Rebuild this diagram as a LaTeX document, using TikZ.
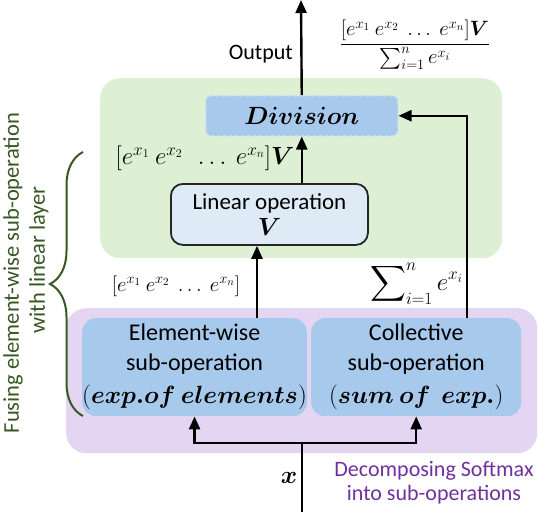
\documentclass[tikz,border=0pt]{standalone}
\usepackage{amsmath}
\usepackage{bm}
\usepackage{fontspec}
\setmainfont{Carlito}
\usetikzlibrary{arrows.meta,decorations.pathreplacing}
\definecolor{greenbg}{HTML}{DDF0D4}
\definecolor{purplebg}{HTML}{E4D6F3}
\definecolor{bluebox}{HTML}{A6C9EC}
\definecolor{linfill}{HTML}{DEEBF7}
\definecolor{divborder}{HTML}{C9DDF2}
\definecolor{darkgreen}{HTML}{385723}
\definecolor{purpletext}{HTML}{7030A0}
\tikzset{
  region/.style={draw=none, rounded corners=20pt, inner sep=0pt, anchor=north west},
  opbox/.style={draw=none, fill=bluebox, rounded corners=14pt, inner sep=0pt, anchor=north west, align=center,
    font=\fontsize{24}{30}\selectfont},
  linbox/.style={draw=black!85, line width=1.8pt, fill=linfill, rounded corners=12pt, inner sep=0pt, anchor=north west, align=center,
    font=\fontsize{23}{29}\selectfont},
  divbox/.style={draw=divborder, dashed, line width=1.5pt, fill=bluebox, rounded corners=5pt, inner sep=0pt, anchor=north west,
    font=\fontsize{23}{26}\selectfont},
  arr/.style={line width=2.4pt, -{Triangle[length=13pt,width=11pt]}},
  lab/.style={inner sep=0pt, font=\fontsize{22}{26}\selectfont},
  mathlab/.style={inner sep=0pt, font=\fontsize{24}{28}\selectfont},
  sidetext/.style={inner sep=0pt, rotate=90, text=darkgreen, font=\fontsize{22.5}{26}\selectfont},
}
\begin{document}
\begin{tikzpicture}[x=1pt,y=-1pt]
\useasboundingbox (0,0) rectangle (538,512);
% backgrounds
\node[region, fill=greenbg, minimum width=402pt, minimum height=180pt] (green) at (100,78) {};
\node[region, fill=purplebg, minimum width=471pt, minimum height=145pt] (purple) at (66,308) {};
% boxes
\node[divbox, minimum width=192pt, minimum height=40pt] (div) at (205,95) {$\bm{Division}$};
\node[linbox, minimum width=197pt, minimum height=61pt] (lin) at (170,183) {Linear operation\\[-3pt] $\bm{V}$};
\node[opbox, minimum width=220pt, minimum height=98pt] (elem) at (82,318)
  {Element-wise\\ sub-operation\\[3pt] $(\bm{exp.of\ elements})$};
\node[opbox, minimum width=210pt, minimum height=98pt] (coll) at (311,318)
  {Collective\\ sub-operation\\[3pt] $(\bm{sum\ of\ \ exp.})$};
% coordinates
\coordinate (top) at (301,0);
\coordinate (in) at (302,512);
\coordinate (split) at (302,443);
\coordinate (ax) at (257,0);
\coordinate (cx) at (467,0);
% connectors
\draw[arr] (div.north) -- (top);
\draw[arr] (div.south |- lin.north) -- (div.south);
\draw[arr] (ax |- elem.north) -- (ax |- lin.south);
\draw[arr] (cx |- coll.north) |- (div.east);
\draw[line width=2.4pt] (in) -- (split);
\draw[arr] (split) -| (elem.south);
\draw[arr] (split) -| (coll.south);
% labels
\node[lab, anchor=east] (outl) at (293,54) {Output};
\node[mathlab, font=\fontsize{22}{26}\selectfont] (frac) at (415,45) {$\dfrac{[e^{x_1}\ e^{x_2}\ \ldots\ e^{x_n}]\bm{V}}{\sum_{i=1}^{n} e^{x_i}}$};
\node[mathlab] (vlab) at (205,158) {$[e^{x_1}\ e^{x_2}\ \ \ldots\ e^{x_n}]\bm{V}$};
\node[mathlab, font=\fontsize{21}{24}\selectfont] (elab) at (176,286) {$[e^{x_1}\ e^{x_2}\ \ldots\ e^{x_n}]$};
\node[mathlab, font=\fontsize{23}{27}\selectfont, anchor=east] (slab) at (463,284) {$\displaystyle\sum\nolimits_{i=1}^{n} e^{x_i}$};
\node[mathlab] (xlab) at (289,478) {$\bm{x}$};
\node[lab, text=purpletext, align=center, font=\fontsize{22}{24}\selectfont] (decomp) at (434,483) {Decomposing Softmax\\ into sub-operations};
% brace
\draw[darkgreen, line width=2pt, decorate, decoration={brace, amplitude=33pt}] (83,416) -- (83,152) coordinate[midway] (bm);
\node[sidetext] (fuse1) at (13,273) {Fusing element-wise sub-operation};
\node[sidetext] (fuse2) at (39,260) {with linear layer};
\end{tikzpicture}
\end{document}
